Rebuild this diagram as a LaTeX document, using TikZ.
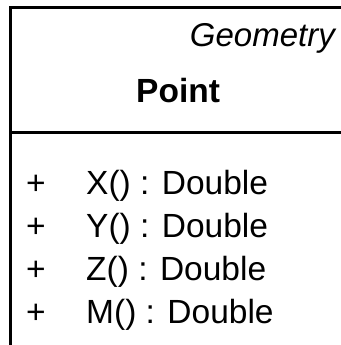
\documentclass[tikz,border=0pt]{standalone}
\usepackage{fontspec}
\setmainfont{Liberation Sans}
\begin{document}
\begin{tikzpicture}[x=1pt,y=1pt,
  umltext/.style={inner sep=0pt, anchor=base west, font=\fontsize{33.5}{34}\selectfont},
  border/.style={line width=3pt, line cap=rect}]
\useasboundingbox (0,0) rectangle (340,-345);
\coordinate (tl) at (10,-7.5);
\coordinate (tr) at (345,-7.5);
\coordinate (bl) at (10,-350);
\coordinate (dl) at (10,-132.5);
\coordinate (dr) at (345,-132.5);
\draw[border] (tr) -- (tl) -- (bl);
\draw[border] (dl) -- (dr);
\node[umltext, anchor=base east, font=\fontsize{33}{34}\itshape] (pkg) at (335,-46) {Geometry};
\node[umltext, font=\fontsize{33.5}{34}\bfseries] (name) at (136,-102) {Point};
\foreach \i/\t/\y in {1/X/-194,2/Y/-237,3/Z/-280,4/M/-323}{
  \node[umltext] (vis\i) at (26,\y) {+};
  \node[umltext] (op\i) at (86,\y) {\t() : Double};
}
\end{tikzpicture}
\end{document}
